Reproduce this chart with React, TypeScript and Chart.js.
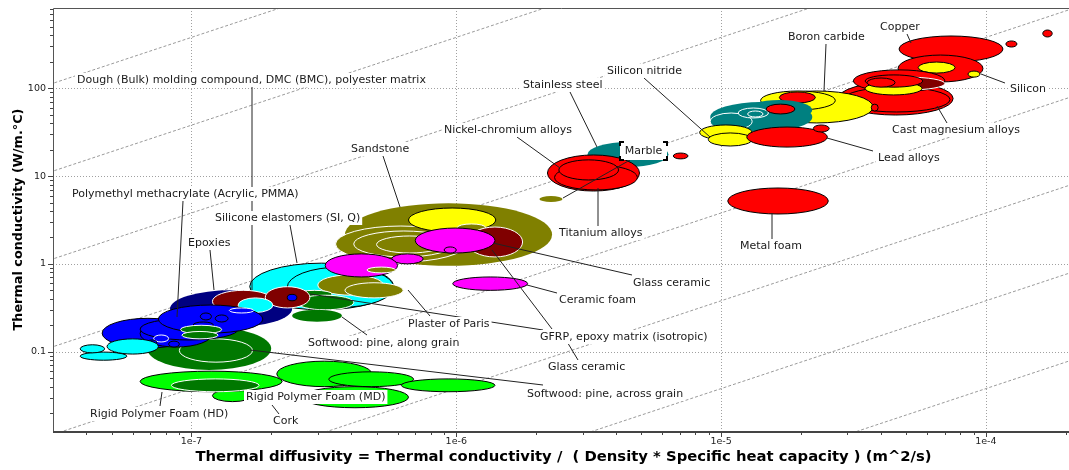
import React, { useEffect, useRef } from "react";
import { Chart, registerables } from "chart.js";

Chart.register(...registerables);

// [diffusivity min, diffusivity max (m^2/s), conductivity min, conductivity max (W/m.°C)]
type Range = [number, number, number, number];

const diffusivityLimits = [3.035e-8, 2.06e-4];
const conductivityLimits = [0.0125, 821];
const diffusivityTicks = ["1e-7", "1e-6", "1e-5", "1e-4"];
const conductivityTicks = ["0.1", "1", "10", "100"];
const heatCapacityGuides = [3.8e2, 3.8e3, 3.8e4, 3.8e5, 3.8e6, 3.8e7, 3.8e8, 3.8e9, 3.8e10, 3.8e11];

const cork: Range[] = [[1.2e-7, 1.7e-7, 0.027, 0.037]];
const rigidFoamHD: Range[] = [[6.4e-8, 2.2e-7, 0.035, 0.06]];
const rigidFoamHDCore: Range[] = [[8.4e-8, 1.8e-7, 0.035, 0.049]];
const rigidFoamMD: Range[] = [
  [2.6e-7, 6.6e-7, 0.023, 0.04],
  [2.1e-7, 4.8e-7, 0.04, 0.078],
  [3.3e-7, 6.9e-7, 0.04, 0.059],
  [6.2e-7, 1.4e-6, 0.035, 0.049],
];
const softwoodAcross: Range[] = [[6.8e-8, 2.0e-7, 0.062, 0.19]];
const softwoodAcrossCore: Range[] = [[9.0e-8, 1.7e-7, 0.076, 0.14]];
const epoxies: Range[] = [[8.3e-8, 2.4e-7, 0.19, 0.5]];
const siliconeElastomers: Range[] = [
  [1.66e-7, 5.8e-7, 0.3, 1.02],
  [2.3e-7, 5.8e-7, 0.32, 0.92],
];
const plasterOfParis: Range[] = [
  [3.0e-7, 5.3e-7, 0.44, 0.75],
  [3.8e-7, 6.3e-7, 0.41, 0.61],
];
const softwoodAlongCore: Range[] = [
  [2.5e-7, 3.4e-7, 0.41, 0.5],
  [2.5e-7, 4.1e-7, 0.3, 0.44],
];
const softwoodAlong: Range[] = [[2.4e-7, 3.7e-7, 0.22, 0.3]];
const dmcBmc: Range[] = [
  [1.2e-7, 2.05e-7, 0.28, 0.5],
  [1.9e-7, 2.8e-7, 0.315, 0.55],
];
const dmcInsert: Range[] = [[1.5e-7, 2.03e-7, 0.28, 0.41]];
const pmma: Range[] = [
  [4.6e-8, 1.02e-7, 0.11, 0.24],
  [6.4e-8, 1.2e-7, 0.113, 0.23],
  [6.4e-8, 1.5e-7, 0.136, 0.24],
  [7.5e-8, 1.86e-7, 0.163, 0.34],
];
const pmmaGrades: Range[] = [
  [7.2e-8, 8.2e-8, 0.129, 0.155],
  [1.39e-7, 1.72e-7, 0.276, 0.315],
];
const pmmaSmall: Range[] = [
  [6.8e-8, 7.4e-8, 0.116, 0.136],
  [8.2e-8, 9.0e-8, 0.113, 0.132],
  [1.08e-7, 1.19e-7, 0.23, 0.276],
  [1.015e-7, 1.21e-7, 0.186, 0.218],
  [1.23e-7, 1.375e-7, 0.218, 0.262],
  [2.3e-7, 2.5e-7, 0.38, 0.45],
];
const woodSmall: Range[] = [
  [9.1e-8, 1.3e-7, 0.16, 0.2],
  [9.2e-8, 1.26e-7, 0.14, 0.17],
];
const polymerCyanLow: Range[] = [
  [3.8e-8, 5.7e-8, 0.08, 0.099],
  [3.8e-8, 4.7e-8, 0.097, 0.12],
  [4.8e-8, 7.5e-8, 0.094, 0.14],
];
const sandstone: Range[] = [[3.8e-7, 2.3e-6, 0.95, 4.9]];
const sandstoneGrades: Range[] = [
  [3.5e-7, 1.09e-6, 1.05, 2.7],
  [4.1e-7, 9.8e-7, 1.2, 2.37],
  [5.0e-7, 8.9e-7, 1.33, 2.08],
];
const yellowCeramic: Range[] = [[6.6e-7, 1.41e-6, 2.31, 4.33]];
const oliveSmall: Range[] = [[1.01e-6, 1.29e-6, 2.37, 2.85]];
const glassCeramic: Range[] = [[1.1e-6, 1.78e-6, 1.2, 2.63]];
const gfrp: Range[] = [
  [7.0e-7, 1.4e-6, 1.33, 2.56],
  [9.0e-7, 1.0e-6, 1.33, 1.56],
  [5.7e-7, 7.5e-7, 1.0, 1.3],
  [3.2e-7, 6.0e-7, 0.71, 1.3],
];
const oliveInGfrp: Range[] = [[4.6e-7, 5.9e-7, 0.79, 0.92]];
const ceramicFoam: Range[] = [[9.7e-7, 1.86e-6, 0.5, 0.71]];
const marble: Range[] = [[2.06e-6, 2.52e-6, 5.07, 5.93]];
const stainlessSteel: Range[] = [[3.13e-6, 6.33e-6, 12.7, 24.4]];
const nickelTitanium: Range[] = [
  [2.21e-6, 4.92e-6, 6.76, 17.4],
  [2.35e-6, 4.83e-6, 6.95, 13.4],
  [2.44e-6, 4.1e-6, 9.03, 15.3],
  [6.6e-6, 7.5e-6, 15.7, 18.3],
];
const castMagnesium: Range[] = [
  [2.77e-5, 7.52e-5, 49.6, 118],
  [2.89e-5, 7.32e-5, 53.7, 103],
];
const copper: Range[] = [
  [4.7e-5, 1.16e-4, 199, 394],
  [4.66e-5, 9.75e-5, 118, 239],
];
const yellowMetalA: Range[] = [[5.55e-5, 7.65e-5, 149, 199]];
const redMetalA: Range[] = [[3.16e-5, 7.0e-5, 91, 162]];
const maroonMetal: Range[] = [[3.66e-5, 7.0e-5, 95.6, 134]];
const yellowMetalB: Range[] = [[3.5e-5, 5.74e-5, 84, 118]];
const redMetalB: Range[] = [
  [3.5e-5, 5.77e-5, 103, 142],
  [3.56e-5, 4.54e-5, 103, 131],
];
const boronCarbide: Range[] = [
  [1.41e-5, 3.75e-5, 40.3, 93.1],
  [1.41e-5, 2.7e-5, 56.6, 93.1],
];
const redOnCarbide: Range[] = [
  [1.66e-5, 2.27e-5, 68, 90.8],
  [3.69e-5, 3.92e-5, 55, 66],
];
const tealCeramic: Range[] = [
  [9.1e-6, 2.21e-5, 31.8, 69.8],
  [1.24e-5, 2.21e-5, 43.5, 73.6],
];
const tealGrades: Range[] = [
  [9.1e-6, 1.31e-5, 33.5, 52.3],
  [1.16e-5, 1.51e-5, 45.9, 59.6],
  [1.26e-5, 1.44e-5, 47.1, 55.1],
];
const redInTeal: Range[] = [[1.48e-5, 1.9e-5, 51, 66]];
const siliconNitride: Range[] = [
  [8.3e-6, 1.31e-5, 25.8, 38.2],
  [8.95e-6, 1.31e-5, 22.0, 31.0],
];
const leadAlloys: Range[] = [
  [1.25e-5, 2.52e-5, 21.4, 36.2],
  [2.23e-5, 2.56e-5, 31.8, 38.2],
];
const metalFoam: Range[] = [[1.06e-5, 2.54e-5, 3.7, 7.32]];
const silicon: Range[] = [[8.56e-5, 9.5e-5, 134, 157]];
const redSmallMetals: Range[] = [
  [1.19e-4, 1.31e-4, 295, 346],
  [1.64e-4, 1.78e-4, 384, 461],
];

const RED = "#ff0000";
const YELLOW = "#ffff00";
const TEAL = "#008080";
const OLIVE = "#808000";
const MAGENTA = "#ff00ff";
const MAROON = "#800000";
const CYAN = "#00ffff";
const NAVY = "#000080";
const BLUE = "#0000ff";
const GREEN = "#007800";
const LIME = "#00ff00";
const K = "#000000";
const W = "#ffffff";

const layers: { data: Range[]; fill: string; stroke: string | null }[] = [
  { data: cork, fill: LIME, stroke: K },
  { data: rigidFoamHD, fill: LIME, stroke: K },
  { data: rigidFoamHDCore, fill: GREEN, stroke: W },
  { data: rigidFoamMD, fill: LIME, stroke: K },
  { data: softwoodAcross, fill: GREEN, stroke: null },
  { data: softwoodAcrossCore, fill: GREEN, stroke: W },
  { data: epoxies, fill: NAVY, stroke: null },
  { data: siliconeElastomers, fill: CYAN, stroke: K },
  { data: plasterOfParis, fill: OLIVE, stroke: W },
  { data: softwoodAlongCore, fill: GREEN, stroke: W },
  { data: softwoodAlong, fill: GREEN, stroke: null },
  { data: dmcBmc, fill: MAROON, stroke: W },
  { data: dmcInsert, fill: CYAN, stroke: W },
  { data: pmma, fill: BLUE, stroke: K },
  { data: pmmaGrades, fill: BLUE, stroke: W },
  { data: pmmaSmall, fill: BLUE, stroke: K },
  { data: woodSmall, fill: GREEN, stroke: W },
  { data: polymerCyanLow, fill: CYAN, stroke: K },
  { data: sandstone, fill: OLIVE, stroke: null },
  { data: sandstoneGrades, fill: OLIVE, stroke: W },
  { data: yellowCeramic, fill: YELLOW, stroke: K },
  { data: oliveSmall, fill: OLIVE, stroke: W },
  { data: glassCeramic, fill: MAROON, stroke: W },
  { data: gfrp, fill: MAGENTA, stroke: K },
  { data: oliveInGfrp, fill: OLIVE, stroke: W },
  { data: ceramicFoam, fill: MAGENTA, stroke: K },
  { data: marble, fill: OLIVE, stroke: null },
  { data: stainlessSteel, fill: TEAL, stroke: null },
  { data: nickelTitanium, fill: RED, stroke: K },
  { data: castMagnesium, fill: RED, stroke: K },
  { data: copper, fill: RED, stroke: K },
  { data: yellowMetalA, fill: YELLOW, stroke: K },
  { data: redMetalA, fill: RED, stroke: K },
  { data: maroonMetal, fill: MAROON, stroke: W },
  { data: yellowMetalB, fill: YELLOW, stroke: K },
  { data: redMetalB, fill: RED, stroke: K },
  { data: boronCarbide, fill: YELLOW, stroke: K },
  { data: redOnCarbide, fill: RED, stroke: K },
  { data: tealCeramic, fill: TEAL, stroke: null },
  { data: tealGrades, fill: TEAL, stroke: W },
  { data: redInTeal, fill: RED, stroke: K },
  { data: siliconNitride, fill: YELLOW, stroke: K },
  { data: leadAlloys, fill: RED, stroke: K },
  { data: metalFoam, fill: RED, stroke: K },
  { data: silicon, fill: YELLOW, stroke: K },
  { data: redSmallMetals, fill: RED, stroke: K },
];

// annotation layout (pixels): text left, text middle y, leader lines
const annotations: { text: string; x: number; y: number; lines: number[][] }[] = [
  { text: "Dough (Bulk) molding compound, DMC (BMC), polyester matrix", x: 77, y: 80, lines: [[252, 87, 252, 290]] },
  { text: "Polymethyl methacrylate (Acrylic, PMMA)", x: 72, y: 194, lines: [[183, 201, 177, 317]] },
  { text: "Epoxies", x: 188, y: 243, lines: [[210, 250, 214, 290]] },
  { text: "Silicone elastomers (SI, Q)", x: 215, y: 218, lines: [[290, 225, 297, 263]] },
  { text: "Sandstone", x: 351, y: 149, lines: [[383, 156, 400, 207]] },
  { text: "Nickel-chromium alloys", x: 444, y: 130, lines: [[517, 137, 560, 168]] },
  { text: "Stainless steel", x: 523, y: 85, lines: [[570, 92, 597, 147]] },
  { text: "Titanium alloys", x: 559, y: 233, lines: [[598, 188, 598, 226]] },
  { text: "Silicon nitride", x: 607, y: 71, lines: [[644, 78, 710, 137]] },
  { text: "Boron carbide", x: 788, y: 37, lines: [[826, 44, 824, 91]] },
  { text: "Copper", x: 880, y: 27, lines: [[907, 34, 911, 43]] },
  { text: "Silicon", x: 1010, y: 89, lines: [[1005, 83, 981, 74]] },
  { text: "Cast magnesium alloys", x: 892, y: 130, lines: [[947, 123, 937, 106]] },
  { text: "Lead alloys", x: 878, y: 158, lines: [[873, 151, 827, 138]] },
  { text: "Metal foam", x: 740, y: 246, lines: [[772, 239, 772, 213]] },
  { text: "Glass ceramic", x: 633, y: 283, lines: [[632, 275, 493, 243]] },
  { text: "Ceramic foam", x: 559, y: 300, lines: [[557, 293, 527, 285]] },
  { text: "Plaster of Paris", x: 408, y: 324, lines: [[430, 316, 408, 290]] },
  { text: "Softwood: pine, along grain", x: 308, y: 343, lines: [[367, 335, 342, 317]] },
  { text: "Glass ceramic", x: 548, y: 367, lines: [[578, 360, 566, 340]] },
  { text: "GFRP, epoxy matrix (isotropic)", x: 540, y: 337, lines: [[552, 329, 492, 250], [543, 330, 310, 294]] },
  { text: "Softwood: pine, across grain", x: 527, y: 394, lines: [[543, 385, 250, 350]] },
  { text: "Rigid Polymer Foam (HD)", x: 90, y: 414, lines: [[160, 406, 162, 392]] },
  { text: "Rigid Polymer Foam (MD)", x: 246, y: 397, lines: [] },
  { text: "Cork", x: 273, y: 421, lines: [[279, 414, 272, 405]] },
];
const marbleLabel = { text: "Marble", box: [620, 142, 47, 18], line: [630, 160, 563, 198] };

const LABEL_FONT = '11px "DejaVu Sans"';
const TICK_FONT = '9.5px "DejaVu Sans"';
const X_TITLE = "Thermal diffusivity = Thermal conductivity /  ( Density * Specific heat capacity ) (m^2/s)";
const Y_TITLE = "Thermal conductivity (W/m.°C)";
const X_TITLE_WIDTH = 737;
const Y_TITLE_WIDTH = 222;

function fitFont(ctx: CanvasRenderingContext2D, text: string, width: number) {
  ctx.font = 'bold 13px "DejaVu Sans"';
  const w = ctx.measureText(text).width;
  const size = (13 * width) / w;
  ctx.font = `bold ${size.toFixed(2)}px "DejaVu Sans"`;
}

const ashbyPlugin = {
  id: "ashby",
  beforeDatasetsDraw(chart: any) {
    const { ctx, chartArea: ca } = chart;
    const xs = chart.scales.x;
    const ys = chart.scales.y;
    ctx.save();
    ctx.beginPath();
    ctx.rect(ca.left, ca.top, ca.right - ca.left, ca.bottom - ca.top);
    ctx.clip();

    // decade grid
    ctx.strokeStyle = "#a0a0a0";
    ctx.lineWidth = 1;
    ctx.setLineDash([1, 2]);
    for (const t of diffusivityTicks) {
      const px = Math.round(xs.getPixelForValue(Number(t))) + 0.5;
      ctx.beginPath();
      ctx.moveTo(px, ca.top);
      ctx.lineTo(px, ca.bottom);
      ctx.stroke();
    }
    for (const t of conductivityTicks) {
      const py = Math.round(ys.getPixelForValue(Number(t))) + 0.5;
      ctx.beginPath();
      ctx.moveTo(ca.left, py);
      ctx.lineTo(ca.right, py);
      ctx.stroke();
    }

    // guide lines k = C * a
    ctx.strokeStyle = "#9a9a9a";
    ctx.setLineDash([3, 2]);
    const [a0, a1] = diffusivityLimits;
    for (const c of heatCapacityGuides) {
      ctx.beginPath();
      ctx.moveTo(xs.getPixelForValue(a0), ys.getPixelForValue(c * a0));
      ctx.lineTo(xs.getPixelForValue(a1), ys.getPixelForValue(c * a1));
      ctx.stroke();
    }
    ctx.setLineDash([]);

    // material property ellipses
    for (const layer of layers) {
      for (const r of layer.data) {
        const x1 = xs.getPixelForValue(r[0]);
        const x2 = xs.getPixelForValue(r[1]);
        const y1 = ys.getPixelForValue(r[3]);
        const y2 = ys.getPixelForValue(r[2]);
        ctx.beginPath();
        ctx.ellipse((x1 + x2) / 2, (y1 + y2) / 2, Math.abs(x2 - x1) / 2, Math.abs(y2 - y1) / 2, 0, 0, Math.PI * 2);
        ctx.fillStyle = layer.fill;
        ctx.fill();
        if (layer.stroke) {
          ctx.strokeStyle = layer.stroke;
          ctx.lineWidth = 1;
          ctx.stroke();
        }
      }
    }
    ctx.restore();
  },
  afterDatasetsDraw(chart: any) {
    const { ctx, chartArea: ca } = chart;
    const xs = chart.scales.x;
    const ys = chart.scales.y;
    ctx.save();

    // leader lines
    ctx.strokeStyle = "#222";
    ctx.lineWidth = 1;
    const allLines = annotations.flatMap((a) => a.lines).concat([marbleLabel.line]);
    for (const l of allLines) {
      ctx.beginPath();
      ctx.moveTo(l[0], l[1]);
      ctx.lineTo(l[2], l[3]);
      ctx.stroke();
    }

    // labels
    ctx.font = LABEL_FONT;
    ctx.textBaseline = "middle";
    ctx.textAlign = "left";
    for (const a of annotations) {
      const w = ctx.measureText(a.text).width;
      ctx.fillStyle = "#fff";
      ctx.fillRect(a.x - 2, a.y - 7, w + 4, 14);
      ctx.fillStyle = "#1a1a1a";
      ctx.fillText(a.text, a.x, a.y + 0.5);
    }
    // Marble (selected) label
    {
      const [bx, by, bw, bh] = marbleLabel.box;
      ctx.fillStyle = "#fff";
      ctx.fillRect(bx, by, bw, bh);
      ctx.strokeStyle = "#000";
      ctx.lineWidth = 2;
      const c = 4;
      const corners = [
        [bx, by + c, bx, by, bx + c, by],
        [bx + bw - c, by, bx + bw, by, bx + bw, by + c],
        [bx, by + bh - c, bx, by + bh, bx + c, by + bh],
        [bx + bw - c, by + bh, bx + bw, by + bh, bx + bw, by + bh - c],
      ];
      for (const p of corners) {
        ctx.beginPath();
        ctx.moveTo(p[0], p[1]);
        ctx.lineTo(p[2], p[3]);
        ctx.lineTo(p[4], p[5]);
        ctx.stroke();
      }
      ctx.fillStyle = "#1a1a1a";
      ctx.textAlign = "center";
      ctx.fillText(marbleLabel.text, bx + bw / 2, by + bh / 2 + 0.5);
    }

    // frame
    ctx.strokeStyle = "#555";
    ctx.lineWidth = 1;
    ctx.beginPath();
    ctx.moveTo(ca.left + 0.5, ca.bottom);
    ctx.lineTo(ca.left + 0.5, ca.top + 0.5);
    ctx.lineTo(ca.right, ca.top + 0.5);
    ctx.stroke();
    ctx.strokeStyle = "#444";
    ctx.lineWidth = 2;
    ctx.beginPath();
    ctx.moveTo(ca.left, ca.bottom + 1);
    ctx.lineTo(ca.right, ca.bottom + 1);
    ctx.stroke();

    // tick marks
    ctx.lineWidth = 1;
    ctx.strokeStyle = "#444";
    const [xmin, xmax] = diffusivityLimits;
    for (let e = Math.floor(Math.log10(xmin)); e <= Math.ceil(Math.log10(xmax)); e++) {
      for (let m = 1; m < 10; m++) {
        const v = m * Math.pow(10, e);
        if (v < xmin || v > xmax) continue;
        const px = Math.round(xs.getPixelForValue(v)) + 0.5;
        ctx.beginPath();
        ctx.moveTo(px, ca.bottom + 1);
        ctx.lineTo(px, ca.bottom + (m === 1 ? 6 : 4));
        ctx.stroke();
      }
    }
    const [ymin, ymax] = conductivityLimits;
    for (let e = Math.floor(Math.log10(ymin)); e <= Math.ceil(Math.log10(ymax)); e++) {
      for (let m = 1; m < 10; m++) {
        const v = m * Math.pow(10, e);
        if (v < ymin || v > ymax) continue;
        const py = Math.round(ys.getPixelForValue(v)) + 0.5;
        ctx.beginPath();
        ctx.moveTo(ca.left, py);
        ctx.lineTo(ca.left - (m === 1 ? 5 : 3), py);
        ctx.stroke();
      }
    }

    // tick labels
    ctx.font = TICK_FONT;
    ctx.fillStyle = "#222";
    ctx.textAlign = "center";
    ctx.textBaseline = "middle";
    for (const t of diffusivityTicks) {
      ctx.fillText(t, xs.getPixelForValue(Number(t)), ca.bottom + 11);
    }
    ctx.textAlign = "right";
    for (const t of conductivityTicks) {
      ctx.fillText(t, ca.left - 7, ys.getPixelForValue(Number(t)));
    }

    // axis titles
    ctx.fillStyle = "#000";
    ctx.textAlign = "center";
    ctx.textBaseline = "middle";
    fitFont(ctx, X_TITLE, X_TITLE_WIDTH);
    ctx.fillText(X_TITLE, 563.5, 457);
    ctx.save();
    fitFont(ctx, Y_TITLE, Y_TITLE_WIDTH);
    ctx.translate(19, (ca.top + ca.bottom) / 2);
    ctx.rotate(-Math.PI / 2);
    ctx.fillText(Y_TITLE, 0, 0);
    ctx.restore();

    ctx.restore();
  },
};

export default function App() {
  const canvasRef = useRef<HTMLCanvasElement | null>(null);

  useEffect(() => {
    document.body.style.margin = "0";
    const canvas = canvasRef.current;
    if (!canvas) return;
    const datasets = layers.map((layer, i) => ({
      label: "group " + i,
      data: layer.data.map((r) => ({ x: Math.sqrt(r[0] * r[1]), y: Math.sqrt(r[2] * r[3]) })),
      pointRadius: 0,
      showLine: false,
      backgroundColor: layer.fill,
    }));
    const chart = new Chart(canvas, {
      type: "scatter",
      data: { datasets },
      options: {
        animation: false,
        responsive: false,
        devicePixelRatio: 1,
        events: [],
        layout: { padding: { top: 8, left: 0, right: 0, bottom: 0 } },
        plugins: { legend: { display: false }, tooltip: { enabled: false }, title: { display: false } },
        scales: {
          x: {
            type: "logarithmic",
            min: diffusivityLimits[0],
            max: diffusivityLimits[1],
            grid: { display: false, drawTicks: false },
            border: { display: false },
            ticks: { display: false },
            afterFit: (s: any) => {
              s.height = 39;
            },
          },
          y: {
            type: "logarithmic",
            min: conductivityLimits[0],
            max: conductivityLimits[1],
            grid: { display: false, drawTicks: false },
            border: { display: false },
            ticks: { display: false },
            afterFit: (s: any) => {
              s.width = 53;
            },
          },
        },
      } as any,
      plugins: [ashbyPlugin],
    });
    return () => chart.destroy();
  }, []);

  return (
    <div style={{ width: 1069, height: 470 }}>
      <canvas ref={canvasRef} width={1069} height={470} style={{ display: "block" }} />
    </div>
  );
}
